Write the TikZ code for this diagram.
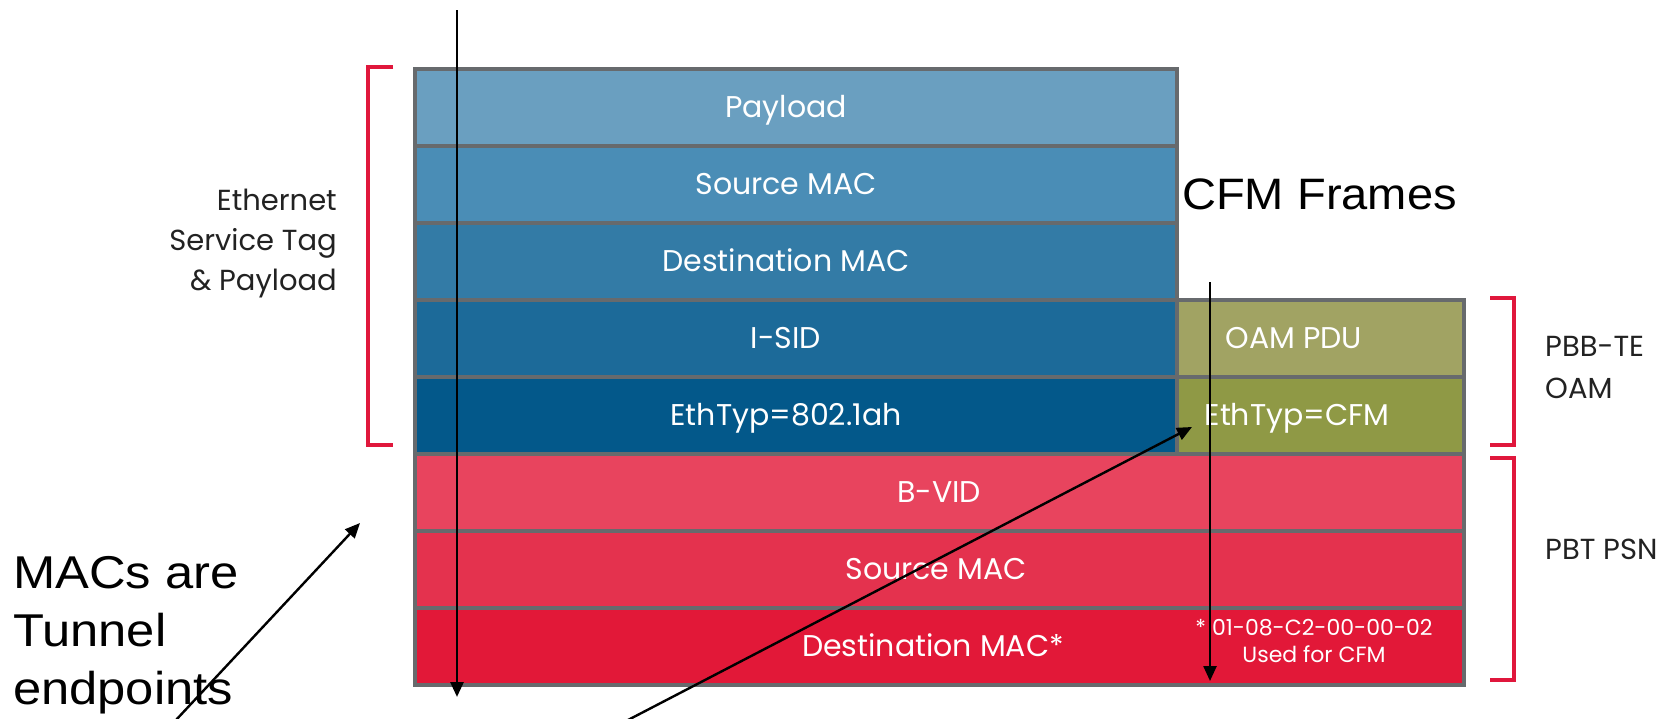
\documentclass[tikz,border=0pt]{standalone}
\usepackage{fontspec}
\setmainfont{Poppins}
\newfontfamily\arialfont{Liberation Sans}
\usetikzlibrary{arrows.meta}
\definecolor{cpay}{HTML}{6A9FC0}
\definecolor{csrcb}{HTML}{4A8DB6}
\definecolor{cdstb}{HTML}{337BA6}
\definecolor{cisid}{HTML}{1C6A99}
\definecolor{cethb}{HTML}{03588A}
\definecolor{coam}{HTML}{A1A363}
\definecolor{ccfm}{HTML}{8F9945}
\definecolor{cbvid}{HTML}{E8445E}
\definecolor{csrcr}{HTML}{E4324E}
\definecolor{cdstr}{HTML}{E21838}
\definecolor{framegray}{HTML}{676A6D}
\definecolor{brred}{HTML}{E0173C}
\definecolor{labgray}{HTML}{222222}
\begin{document}
\begin{tikzpicture}[x=1pt,y=-1pt,
  rowbox/.style={draw=framegray, line width=4pt, inner sep=0pt, anchor=north west, minimum height=77pt},
  rowtext/.style={text=white, font=\fontsize{30}{34}\selectfont, anchor=base, inner sep=0pt},
  sidelab/.style={text=labgray, font=\fontsize{29}{40}\selectfont, inner sep=0pt},
  bracket/.style={draw=brred, line width=4.5pt},
  arr/.style={draw=black, line width=2.8pt, -{Triangle[length=15pt,width=13pt]}},
  bigtext/.style={font=\arialfont\fontsize{44}{60}\selectfont, text=black, inner sep=0pt, xscale=1.07}]
\useasboundingbox (0,0) rectangle (1668,718);
\fill[white] (0,0) rectangle (1668,718);
% rows
\node[rowbox, fill=cpay,  minimum width=762pt] (payload) at (413,67) {};
\node[rowbox, fill=csrcb, minimum width=762pt] (srcb) at (413,144) {};
\node[rowbox, fill=cdstb, minimum width=762pt] (dstb) at (413,221) {};
\node[rowbox, fill=cisid, minimum width=762pt] (isid) at (413,298) {};
\node[rowbox, fill=cethb, minimum width=762pt] (ethb) at (413,375) {};
\node[rowbox, fill=coam,  minimum width=287pt] (oam) at (1175,298) {};
\node[rowbox, fill=ccfm,  minimum width=287pt] (cfm) at (1175,375) {};
\node[rowbox, fill=cbvid, minimum width=1049pt] (bvid) at (413,452) {};
\node[rowbox, fill=csrcr, minimum width=1049pt] (srcr) at (413,529) {};
\node[rowbox, fill=cdstr, minimum width=1049pt] (dstr) at (413,606) {};
% row texts
\node[rowtext] (tpay)  at (786,117.5) {Payload};
\node[rowtext] (tsrcb) at (786,194.5) {Source MAC};
\node[rowtext] (tdstb) at (786,271.5) {Destination MAC};
\node[rowtext] (tisid) at (786,348.5) {I-SID};
\node[rowtext] (tethb) at (786,425.5) {EthTyp=802.1ah};
\node[rowtext] (toam)  at (1294,348.5) {OAM PDU};
\node[rowtext] (tcfm)  at (1297,425.5) {EthTyp=CFM};
\node[rowtext] (tbvid) at (939,502.5) {B-VID};
\node[rowtext] (tsrcr) at (936,579.5) {Source MAC};
\node[rowtext] (tdstr) at (933,656.5) {Destination MAC*};
\node[text=white, font=\fontsize{22}{27}\selectfont, inner sep=0pt, align=center, anchor=north] (tnote) at (1314,619) {* 01-08-C2-00-00-02\\Used for CFM};
% side labels
\node[sidelab, align=right, anchor=north east] (ethlab) at (337,189) {Ethernet\\Service Tag\\\& Payload};
\node[sidelab, align=left, anchor=north west, font=\fontsize{29}{42}\selectfont] (pbblab) at (1545,336) {PBB-TE\\OAM};
\node[sidelab, anchor=west] (pbtlab) at (1545,549) {PBT PSN};
% brackets
\draw[bracket] (393,67) -- (368,67) -- (368,445) -- (393,445);
\draw[bracket] (1490,298) -- (1514,298) -- (1514,445) -- (1490,445);
\draw[bracket] (1490,458) -- (1514,458) -- (1514,680) -- (1490,680);
% big annotations
\node[bigtext, anchor=base west] (cfmframes) at (1182,209) {CFM Frames};
\node[bigtext, align=left, anchor=north west, font=\arialfont\fontsize{46}{58}\selectfont, xscale=1.03] (macs) at (13,556) {MACs are\\Tunnel\\endpoints};
% arrows
\coordinate (a1s) at (457,10);
\coordinate (a1e) at (457,697);
\coordinate (a2s) at (1210,282);
\coordinate (a2e) at (1210,681);
\coordinate (a3s) at (628,720);
\coordinate (a3e) at (1192,427);
\coordinate (a4s) at (176,720);
\coordinate (a4e) at (360,523);
\draw[arr] (a1s) -- (a1e);
\draw[arr, line width=2.4pt] (a2s) -- (a2e);
\draw[arr, line width=2.4pt] (a3s) -- (a3e);
\draw[arr, line width=2.4pt] (a4s) -- (a4e);
\end{tikzpicture}
\end{document}
